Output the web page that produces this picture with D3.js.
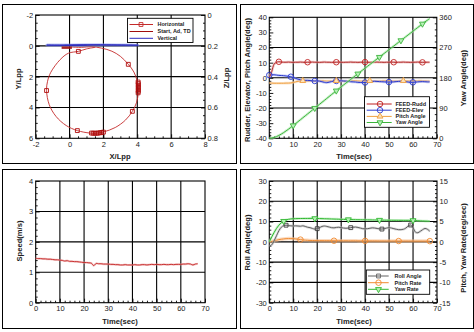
<!DOCTYPE html>
<html><head><meta charset="utf-8">
<script src="https://cdn.jsdelivr.net/npm/d3@7"></script>
<style>
body{margin:0;background:#fff;}
svg{display:block;font-family:"Liberation Sans",Arial,sans-serif;}
.ax text{font-size:7.5px;fill:#222;font-family:"Liberation Sans",Arial,sans-serif;}
.ax line{stroke:#000;stroke-width:0.9;}
.ttl{font-size:7.6px;font-weight:bold;fill:#222;}
.lg{font-size:5.5px;font-weight:bold;fill:#222;}
</style></head><body>
<svg id="c" width="474" height="332"></svg>
<script>
// ---------- Panel 1: trajectory ----------
const trajX = [0.12,0.7,1.3,1.9,2.5,3.0,3.47,3.8,4.0,4.06,4.06,3.95,3.71,3.3,2.7,2.03,1.6,1.2,0.46,-0.2,-0.8,-1.2,-1.36,-1.3,-1.11,-0.56,-0.07,0.52,1.0,1.5];
const trajY = [0.08,0.1,0.06,0.15,0.35,0.68,1.2,1.7,2.3,2.7,3.08,3.7,4.25,4.82,5.3,5.58,5.67,5.66,5.5,5.17,4.58,3.82,2.9,2.3,1.72,0.9,0.48,0.36,0.2,0.1];
const trajMarkX = [0.52,3.47,4.05,4.06,4.06,4.06,4.06,4.06,4.06,4.05,3.71,2.0,1.9,1.8,1.7,1.6,1.5,1.4,1.3,0.46,-1.36];
const trajMarkY = [0.36,1.2,2.35,2.45,2.55,2.65,2.75,2.85,2.95,3.05,4.25,5.6,5.62,5.64,5.66,5.67,5.67,5.67,5.66,5.5,2.9];
const startX = [-0.47,0.14];
const startY = [0.12,0.12];
const vertX = [-0.3,0.5,1.4,2.6,3.5,4.06,3.7,2.8,1.5,0.2,-0.8,-1.35,-1.1,-0.3,0.5,1.0];
const vertZ = [0.197,0.196,0.194,0.195,0.196,0.196,0.195,0.194,0.193,0.194,0.195,0.195,0.196,0.197,0.196,0.196];
const p1XTicks = [-2,0,2,4,6,8];
const p1YTicks = [-2,0,2,4,6];
const p1ZTicks = [0,0.2,0.4,0.6,0.8];

// ---------- Shared time (s) ----------
const T = [0,1,2,3,4,5,6,7,8,9,10,11,12,13,14,15,16,17,18,19,20,21,22,23,24,25,26,27,28,29,30,31,32,33,34,35,36,37,38,39,40,41,42,43,44,45,46,47,48,49,50,51,52,53,54,55,56,57,58,59,60,61,62,63,64,65,66,67];
const timeTicks = [0,10,20,30,40,50,60,70];

// ---------- Panel 2 ----------
const ruddAng = [0,4,9,10.3,10.6,10.4,10.3,10.3,10.4,10.3,
10.2,10.3,10.3,10.4,10.3,10.2,10.3,10.3,10.4,10.3,
10.3,10.2,10.3,10.4,10.3,10.3,10.2,10.3,10.3,10.4,
10.3,10.2,10.3,10.3,10.4,10.3,10.3,10.2,10.3,10.3,
10.4,10.3,10.2,10.3,10.3,10.4,10.3,10.3,10.2,10.3,
10.3,10.4,10.3,10.2,10.3,10.3,10.4,10.3,10.3,10.2,
10.3,10.3,10.4,10.3,10.2,10.3,10.3,10.3];
const elevAng = [1.8,2.0,2.0,1.8,1.6,1.5,1.4,1.2,1.0,0.7,
0.2,-0.4,-0.9,-1.3,-1.6,-1.7,-1.7,-1.8,-2.0,-2.1,
-2.0,-2.2,-2.6,-3.0,-3.2,-2.9,-2.5,-2.2,-2.1,-2.1,
-2.0,-2.1,-2.2,-2.4,-2.6,-2.7,-2.8,-3.0,-3.1,-3.2,
-3.1,-2.9,-2.6,-2.4,-2.3,-2.4,-2.5,-2.6,-2.7,-2.8,
-2.8,-2.8,-2.7,-2.5,-2.4,-2.3,-2.4,-2.6,-2.8,-3.0,
-3.0,-2.9,-2.7,-2.6,-2.5,-2.6,-2.7,-2.7];
const pitchAng = [-3.4,-3.5,-3.6,-3.6,-3.6,-3.6,-3.6,-3.5,-3.5,-3.4,
-3.1,-2.7,-2.3,-2.1,-2.0,-2.0,-2.1,-2.1,-2.2,-2.2,
-2.1,-2.1,-2.0,-2.1,-2.2,-2.2,-2.1,-2.1,-2.0,-2.1,
-2.1,-2.2,-2.2,-2.1,-2.1,-2.0,-2.0,-2.1,-2.2,-2.2,
-2.1,-2.1,-2.0,-2.1,-2.1,-2.2,-2.2,-2.1,-2.0,-2.0,
-2.1,-2.1,-2.2,-2.2,-2.1,-2.0,-2.0,-2.1,-2.1,-2.2,
-2.2,-2.1,-2.1,-2.0,-2.1,-2.1,-2.2,-2.2];
const yawAng = [0,0.8,2.5,5,8.5,12.5,17,22,27,32.5,
38,43.7,49.5,55.2,61,66.7,72.5,78.2,84,89.7,
95.5,101.2,107,112.7,118.5,124.2,130,135.7,141.5,147.2,
153,158.5,164,169.5,175,180.7,186.5,192,197.5,203,
208.5,214,219.5,225,230.5,236,241.5,247,252.5,258,
263.5,269,274.5,280,285.5,291,296.5,302,307.5,313,
318.5,324,329.5,335,340.5,346,351,356];
const ruddMarkT = [4,16,28,40,52,64];
const elevMarkT = [0,9,19,28,40,50,60];
const pitchMarkT = [14,28,42,56];
const yawMarkT = [10,19,28,37,46,55,64];
const p2LTicks = [-40,-30,-20,-10,0,10,20,30,40];
const p2RTicks = [0,90,180,270,360];

// ---------- Panel 3 ----------
const speed = [1.46,1.45,1.45,1.44,1.44,1.43,1.43,1.42,1.41,1.41,
1.40,1.39,1.37,1.38,1.36,1.36,1.35,1.35,1.34,1.33,
1.32,1.32,1.31,1.30,1.22,1.29,1.28,1.28,1.27,1.27,
1.27,1.26,1.26,1.25,1.25,1.24,1.24,1.25,1.24,1.24,
1.24,1.25,1.24,1.24,1.25,1.25,1.24,1.25,1.26,1.25,
1.26,1.25,1.25,1.26,1.25,1.25,1.26,1.25,1.26,1.26,
1.26,1.27,1.27,1.28,1.27,1.24,1.27,1.28];
const p3YTicks = [0,1,2,3,4];

// ---------- Panel 4 ----------
const rollAng = [-2,-1.5,0.5,3,5.5,7.2,8.0,8.2,8.0,7.9,
7.8,7.9,7.8,7.7,7.9,7.6,7.2,7.0,6.6,6.3,
6.5,7.0,7.6,7.8,7.6,7.3,7.0,6.9,7.1,7.2,
7.0,6.8,6.7,6.8,7.0,7.2,7.3,7.1,6.8,6.5,
6.4,6.5,6.7,6.9,6.8,6.6,6.4,6.3,6.5,6.8,
7.0,6.8,6.5,6.2,6.0,6.0,6.2,6.8,7.8,8.3,
7.0,4.8,4.5,5.2,6.0,6.6,6.2,5.2];
const pitchRate = [0,0.1,0.25,0.4,0.55,0.65,0.72,0.78,0.8,0.8,
0.78,0.72,0.65,0.55,0.48,0.42,0.38,0.35,0.33,0.32,
0.3,0.3,0.29,0.29,0.28,0.28,0.28,0.27,0.27,0.27,
0.26,0.26,0.26,0.25,0.25,0.25,0.25,0.24,0.24,0.24,
0.24,0.23,0.23,0.23,0.23,0.22,0.22,0.22,0.22,0.22,
0.21,0.21,0.21,0.21,0.2,0.2,0.2,0.2,0.2,0.2,
0.2,0.19,0.19,0.19,0.19,0.18,0.18,0.18];
const yawRate = [0,1.2,2.3,3.3,4.1,4.7,5.1,5.4,5.55,5.65,
5.7,5.72,5.74,5.75,5.76,5.77,5.77,5.78,5.78,5.77,
5.76,5.74,5.72,5.7,5.68,5.66,5.64,5.62,5.6,5.58,
5.56,5.54,5.52,5.5,5.49,5.48,5.47,5.46,5.45,5.44,
5.43,5.42,5.41,5.4,5.39,5.38,5.37,5.36,5.35,5.34,
5.33,5.33,5.32,5.32,5.31,5.31,5.3,5.3,5.3,5.29,
5.28,5.25,5.2,5.17,5.15,5.12,5.1,5.08];
const rollMarkT = [7,20,34,47,59];
const pRateMarkT = [13,27,40,54,67];
const yRateMarkT = [6,19,33,46,60];
const p4LTicks = [-30,-20,-10,0,10,20,30];
const p4RTicks = [-15,-10,-5,0,5,10,15];

// ================= drawing =================
const svg = d3.select('#c');

function minors(lo, hi, step, major) {
  const n = Math.round((hi - lo) / step);
  return d3.range(n + 1).map(i => +(lo + i * step).toFixed(6))
    .filter(v => Math.abs(v / major - Math.round(v / major)) > 1e-6);
}

function addAxis(g, axis, ticks, minor, transform, pad) {
  const a = g.append('g').attr('class', 'ax').attr('transform', transform);
  a.call(axis.tickValues(ticks).tickSize(-4).tickPadding(pad).tickFormat(d => String(d)));
  a.select('.domain').remove();
  const m = g.append('g').attr('class', 'ax').attr('transform', transform);
  m.call(axis.tickValues(minor).tickSize(-2).tickFormat(''));
  m.select('.domain').remove();
}

function makePanel(p) {
  const g = svg.append('g');
  g.append('rect').attr('x', p.frame[0] + 0.5).attr('y', p.frame[1] + 0.5)
    .attr('width', p.frame[2] - p.frame[0]).attr('height', p.frame[3] - p.frame[1])
    .attr('fill', 'none').attr('stroke', '#000').attr('stroke-width', 1);
  const x = d3.scaleLinear().domain(p.xDom).range([p.x0, p.x1]);
  const yL = d3.scaleLinear().domain(p.yDom).range(p.yFlip ? [p.y0, p.y1] : [p.y1, p.y0]);
  const yR = p.rDom ? d3.scaleLinear().domain(p.rDom).range(p.rFlip ? [p.y0, p.y1] : [p.y1, p.y0]) : null;
  g.selectAll(null).data(p.xGrid).join('line')
    .attr('x1', d => x(d)).attr('x2', d => x(d)).attr('y1', p.y0).attr('y2', p.y1)
    .attr('stroke', '#000').attr('stroke-width', 1.1);
  g.selectAll(null).data(p.yGrid).join('line')
    .attr('y1', d => yL(d)).attr('y2', d => yL(d)).attr('x1', p.x0).attr('x2', p.x1)
    .attr('stroke', '#000').attr('stroke-width', 1.1);
  g.append('rect').attr('x', p.x0).attr('y', p.y0).attr('width', p.x1 - p.x0).attr('height', p.y1 - p.y0)
    .attr('fill', 'none').attr('stroke', '#000').attr('stroke-width', 1.1);
  addAxis(g, d3.axisBottom(x), p.xTicks, p.xMinor, `translate(0,${p.y1})`, 3);
  addAxis(g, d3.axisLeft(yL), p.yTicks, p.yMinor, `translate(${p.x0},0)`, 2.5);
  if (yR) addAxis(g, d3.axisRight(yR), p.rTicks, p.rMinor, `translate(${p.x1},0)`, 2.5);
  const plot = g.append('g');
  return { g, plot, x, yL, yR };
}

function title(g, txt, cx, cy, rot) {
  g.append('text').attr('class', 'ttl').attr('text-anchor', 'middle').attr('dy', '0.35em')
    .attr('transform', `translate(${cx},${cy})` + (rot ? ' rotate(-90)' : '')).text(txt);
}

function drawLine(g, xs, ys, color, w, halo, hw) {
  const pts = xs.map((v, i) => [v, ys[i]]);
  const ln = d3.line().curve(d3.curveCatmullRom);
  if (halo) g.append('path').attr('d', ln(pts)).attr('fill', 'none').attr('stroke', halo)
    .attr('stroke-width', hw || 2.6).attr('stroke-opacity', 0.55).attr('stroke-linejoin', 'round');
  g.append('path').attr('d', ln(pts)).attr('fill', 'none').attr('stroke', color)
    .attr('stroke-width', w).attr('stroke-linejoin', 'round');
}

const SYM = { square: [d3.symbolSquare, 15], circle: [d3.symbolCircle, 24], tri: [d3.symbolTriangle, 15], triDown: [d3.symbolTriangle, 15] };
function drawMarkers(g, pts, type, color, fill) {
  const [s, sz] = SYM[type];
  g.selectAll(null).data(pts).join('path')
    .attr('d', d3.symbol(s, sz)())
    .attr('transform', d => `translate(${d[0]},${d[1]})` + (type === 'triDown' ? ' rotate(180)' : ''))
    .attr('fill', fill || 'none').attr('stroke', color).attr('stroke-width', 0.9);
}

function legend(g, box, rows, lx0, lx1, mx, tx) {
  g.append('rect').attr('x', box[0]).attr('y', box[1]).attr('width', box[2] - box[0]).attr('height', box[3] - box[1])
    .attr('fill', '#fff').attr('stroke', '#000').attr('stroke-width', 0.9);
  rows.forEach(r => {
    g.append('line').attr('x1', lx0).attr('x2', lx1).attr('y1', r.y).attr('y2', r.y)
      .attr('stroke', r.color).attr('stroke-width', r.w || 1);
    if (r.marker) drawMarkers(g, [[mx, r.y]], r.marker, r.color, r.fill);
    g.append('text').attr('class', 'lg').attr('x', tx).attr('y', r.y).attr('dy', '0.35em').text(r.label);
  });
}

// ---------- Panel 1 ----------
const P1 = makePanel({
  frame: [2, 4, 236, 163], x0: 35.7, x1: 205, y0: 15, y1: 138.3,
  xDom: [-2, 8], yDom: [-2, 6], yFlip: true, rDom: [0, 0.8], rFlip: true,
  xTicks: p1XTicks, xMinor: minors(-2, 8, 0.5, 2),
  yTicks: p1YTicks, yMinor: minors(-2, 6, 0.5, 2),
  rTicks: p1ZTicks, rMinor: minors(0, 0.8, 0.05, 0.2),
  xGrid: [0, 2, 4, 6], yGrid: [0, 2, 4]
});
drawLine(P1.plot, trajX.map(P1.x), trajY.map(P1.yL), '#c42a2a', 0.9);
drawMarkers(P1.plot, trajMarkX.map((v, i) => [P1.x(v), P1.yL(trajMarkY[i])]), 'square', '#b00d0d');
drawLine(P1.plot, vertX.map(P1.x), vertZ.map(P1.yR), '#2c2cc0', 1, '#8c9cf0', 3);
P1.plot.append('line').attr('x1', P1.x(startX[0])).attr('x2', P1.x(startX[1]))
  .attr('y1', P1.yL(startY[0])).attr('y2', P1.yL(startY[1])).attr('stroke', '#a00d0d').attr('stroke-width', 2.4).attr('stroke-opacity', 0.9);
legend(P1.g, [127.5, 18.3, 193, 42.5], [
  { label: 'Horizontal', color: '#c42a2a', marker: 'square', y: 24.5 },
  { label: 'Start, Ad, TD', color: '#a00d0d', y: 31.5 },
  { label: 'Vertical', color: '#2c2cc0', y: 38.3 }
], 129.5, 153, 141, 157.5);
title(P1.g, 'X/Lpp', 120, 156);
title(P1.g, 'Y/Lpp', 18.8, 79, true);
title(P1.g, 'Z/Lpp', 226, 78, true);

// ---------- Panel 2 ----------
const P2 = makePanel({
  frame: [240, 4, 473, 163], x0: 269.3, x1: 436.8, y0: 17.3, y1: 138.3,
  xDom: [0, 70], yDom: [-40, 40], rDom: [0, 360],
  xTicks: timeTicks, xMinor: minors(0, 70, 2, 10),
  yTicks: p2LTicks, yMinor: minors(-40, 40, 2, 10),
  rTicks: p2RTicks, rMinor: minors(0, 360, 18, 90),
  xGrid: [10, 20, 30, 40, 50, 60], yGrid: [-20, 0, 20]
});
const tx2 = T.map(P2.x);
drawLine(P2.plot, tx2, pitchAng.map(P2.yL), '#f0a040', 1, '#f8d0a0');
drawLine(P2.plot, tx2, elevAng.map(P2.yL), '#2a3ad0', 1, '#a0a8f0');
drawLine(P2.plot, tx2, ruddAng.map(P2.yL), '#b02828', 1, '#e8a0a0');
drawLine(P2.plot, tx2, yawAng.map(P2.yR), '#3cb43c', 1, '#a8e8a8');
drawMarkers(P2.plot, ruddMarkT.map(t => [P2.x(T[t]), P2.yL(ruddAng[t])]), 'circle', '#c02020');
drawMarkers(P2.plot, elevMarkT.map(t => [P2.x(T[t]), P2.yL(elevAng[t])]), 'circle', '#2a3ad0');
drawMarkers(P2.plot, pitchMarkT.map(t => [P2.x(T[t]), P2.yL(pitchAng[t])]), 'tri', '#f0a040', '#fbe0b8');
drawMarkers(P2.plot, yawMarkT.map(t => [P2.x(T[t]), P2.yR(yawAng[t])]), 'triDown', '#3cb43c', '#b8f0b8');
legend(P2.g, [364.5, 96.7, 429.5, 127.3], [
  { label: 'FEED-Rudd', color: '#c02020', marker: 'circle', y: 104 },
  { label: 'FEED-Elev', color: '#2a3ad0', marker: 'circle', y: 110.2 },
  { label: 'Pitch Angle', color: '#f0a040', marker: 'tri', fill: '#fbe0b8', y: 116.4 },
  { label: 'Yaw Angle', color: '#3cb43c', marker: 'triDown', fill: '#b8f0b8', y: 122.5 }
], 366.7, 391.7, 380, 395.5);
title(P2.g, 'Time(sec)', 354, 156);
title(P2.g, 'Rudder, Elevator, Pitch Angle(deg)', 247.3, 80, true);
title(P2.g, 'Yaw Angle(deg)', 463.3, 78, true);

// ---------- Panel 3 ----------
const P3 = makePanel({
  frame: [2, 169, 236, 328], x0: 35.7, x1: 205, y0: 181, y1: 302.7,
  xDom: [0, 70], yDom: [0, 4],
  xTicks: timeTicks, xMinor: minors(0, 70, 2, 10),
  yTicks: p3YTicks, yMinor: minors(0, 4, 0.2, 1),
  xGrid: [10, 20, 30, 40, 50, 60], yGrid: [1, 2, 3]
});
drawLine(P3.plot, T.map(P3.x), speed.map(P3.yL), '#c42020', 0.9, '#eaa0a0', 2.2);
title(P3.g, 'Time(sec)', 120, 321);
title(P3.g, 'Speed(m/s)', 19, 241, true);

// ---------- Panel 4 ----------
const P4 = makePanel({
  frame: [240, 169, 473, 328], x0: 269.3, x1: 437, y0: 181, y1: 302.7,
  xDom: [0, 70], yDom: [-30, 30], rDom: [-15, 15],
  xTicks: timeTicks, xMinor: minors(0, 70, 2, 10),
  yTicks: p4LTicks, yMinor: minors(-30, 30, 2, 10),
  rTicks: p4RTicks, rMinor: minors(-15, 15, 1, 5),
  xGrid: [10, 20, 30, 40, 50, 60], yGrid: [-20, -10, 0, 10, 20]
});
const tx4 = T.map(P4.x);
drawLine(P4.plot, tx4, pitchRate.map(P4.yR), '#f08a30', 1, '#f8c090', 3.5);
drawLine(P4.plot, tx4, rollAng.map(P4.yL), '#606060', 1, '#c0c0c0');
drawLine(P4.plot, tx4, yawRate.map(P4.yR), '#30b830', 1, '#a8e8a8');
drawMarkers(P4.plot, rollMarkT.map(t => [P4.x(T[t]), P4.yL(rollAng[t])]), 'square', '#404040');
drawMarkers(P4.plot, pRateMarkT.map(t => [P4.x(T[t]), P4.yR(pitchRate[t])]), 'circle', '#f08a30');
drawMarkers(P4.plot, yRateMarkT.map(t => [P4.x(T[t]), P4.yR(yawRate[t])]), 'triDown', '#30b830', '#b8f0b8');
legend(P4.g, [366.3, 270, 429.7, 294.3], [
  { label: 'Roll Angle', color: '#606060', marker: 'square', y: 276 },
  { label: 'Pitch Rate', color: '#f08a30', marker: 'circle', y: 282.7 },
  { label: 'Yaw Rate', color: '#30b830', marker: 'triDown', fill: '#b8f0b8', y: 289.3 }
], 368, 388.7, 378.5, 394.5);
title(P4.g, 'Time(sec)', 354, 321);
title(P4.g, 'Roll Angle(deg)', 247.3, 242.5, true);
title(P4.g, 'Pitch, Yaw Rate(deg/sec)', 463, 248, true);
</script>
</body></html>
